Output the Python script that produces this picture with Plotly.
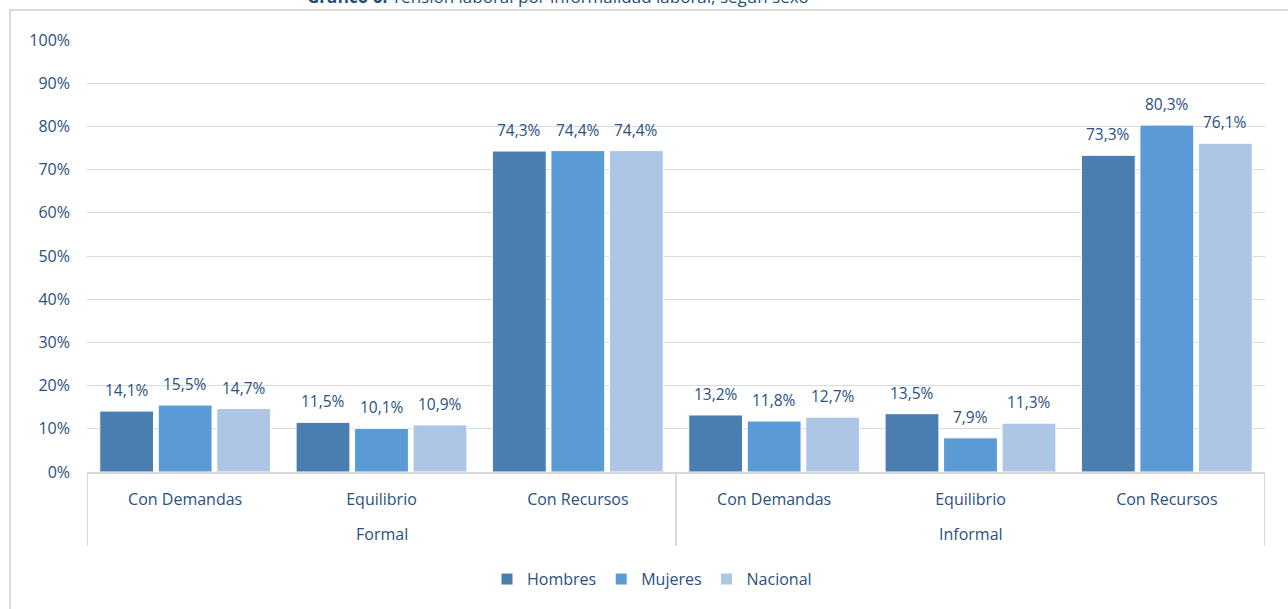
import plotly.graph_objects as go

grupos = ["Formal", "Informal"]
tension = ["Con Demandas", "Equilibrio", "Con Recursos",
           "Con Demandas", "Equilibrio", "Con Recursos"]

hombres = [14.1, 11.5, 74.3, 13.2, 13.5, 73.3]
mujeres = [15.5, 10.1, 74.4, 11.8, 7.9, 80.3]
nacional = [14.7, 10.9, 74.4, 12.7, 11.3, 76.1]

series = [
    ("Hombres", hombres, "#4A7EB0"),
    ("Mujeres", mujeres, "#5B9BD5"),
    ("Nacional", nacional, "#ADC6E5"),
]

text_color = "#2A5080"
grid_color = "#D9D9D9"
font_family = "Open Sans, Noto Sans, sans-serif"
bargap = 0.106
posiciones = list(range(len(tension)))

fig = go.Figure()

for name, vals, color in series:
    fig.add_trace(
        go.Bar(
            x=posiciones,
            y=vals,
            name=name,
            marker=dict(color=color, line=dict(color="white", width=1)),
        )
    )

# etiquetas de datos, con coma decimal, sobre cada barra
slot = (1 - bargap) / len(series)
for k, (name, vals, color) in enumerate(series):
    for i, v in zip(posiciones, vals):
        fig.add_annotation(
            x=i + (k - 1) * slot, y=v, xref="x", yref="y",
            text=f"{v:.1f}".replace(".", ",") + "%",
            showarrow=False, yanchor="middle", yshift=21,
            font=dict(size=15.5, color=text_color),
        )

# segundo nivel del eje: Formal / Informal y divisores
for j, g in enumerate(grupos):
    fig.add_annotation(
        x=j * 3 + 1, y=0, xref="x", yref="paper",
        text=g, showarrow=False, yanchor="middle", yshift=-62,
        font=dict(size=16, color=text_color),
    )
for xd in [-0.5, 2.5, 5.5]:
    fig.add_shape(
        type="line", xref="x", yref="paper",
        x0=xd, x1=xd, y0=0, y1=-74 / 432,
        line=dict(color=grid_color, width=2),
    )

# borde del área del gráfico
fig.add_shape(
    type="rect", xref="paper", yref="paper",
    x0=(10 - 87) / 1178, x1=1.05, y0=-0.4, y1=(472 - 10) / 432,
    line=dict(color=grid_color, width=2), layer="below",
)

# título (recortado en el borde superior, como en el original)
fig.add_annotation(
    text="<b>Gráfico 6.</b> Tensión laboral por informalidad laboral, según sexo",
    xref="paper", yref="paper", x=(558 - 87) / 1178, y=1,
    xanchor="center", yanchor="bottom", yshift=30,
    showarrow=False, font=dict(size=17, color="#1F4E79"),
)

fig.update_layout(
    width=1288,
    height=609,
    margin=dict(l=87, r=23, t=40, b=137),
    paper_bgcolor="white",
    plot_bgcolor="white",
    font=dict(family=font_family, size=16, color=text_color),
    barmode="group",
    bargap=bargap,
    bargroupgap=0.08,
    showlegend=True,
    legend=dict(
        orientation="h", x=(652 - 87) / 1178, xanchor="center",
        y=-0.248, yanchor="middle", font=dict(size=16, color=text_color),
        itemwidth=30,
    ),
    yaxis=dict(
        range=[0, 100], dtick=10, ticksuffix="%",
        showgrid=True, gridcolor=grid_color, gridwidth=1,
        zeroline=False, showline=False, ticks="",
        ticklabelstandoff=16,
        tickfont=dict(size=16, color=text_color),
    ),
    xaxis=dict(
        range=[-0.5, 5.5],
        tickvals=posiciones, ticktext=tension,
        showgrid=False, zeroline=False,
        showline=True, linecolor=grid_color, linewidth=2,
        ticks="", ticklabelstandoff=12,
        tickfont=dict(size=16, color=text_color),
    ),
)

fig.write_html(
    "out.html",
    config={"displayModeBar": False},
    post_script="document.body.style.margin='0';",
)
